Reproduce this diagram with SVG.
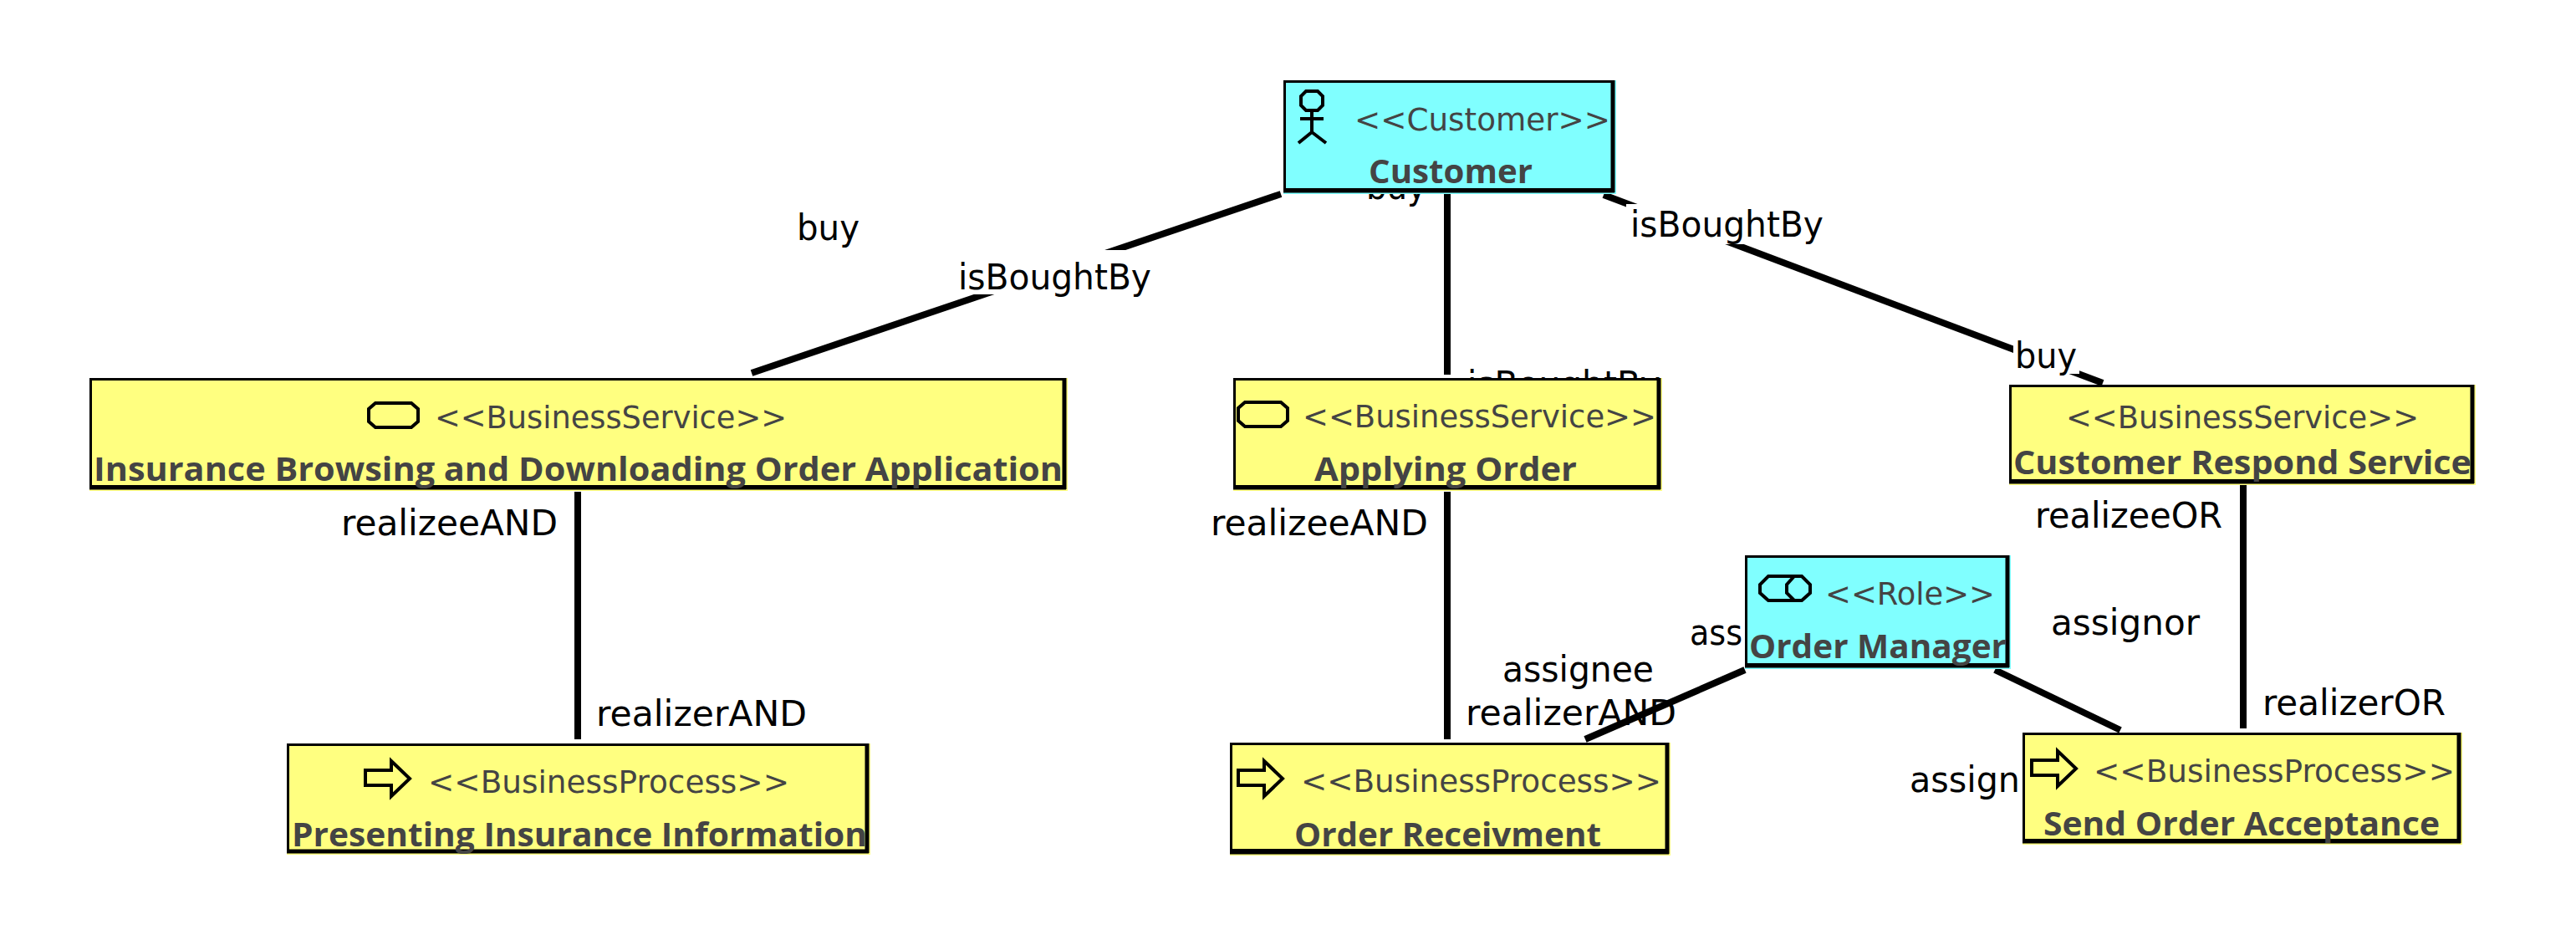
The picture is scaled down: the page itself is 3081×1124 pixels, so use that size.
<svg xmlns="http://www.w3.org/2000/svg" width="3081" height="1124" viewBox="0 0 3081 1124">
<style>
.y{fill:#ffff80}.c{fill:#80ffff}
.f{fill:none;stroke:#000;stroke-width:3}
.b{fill:none;stroke:#000;stroke-width:5}
.i{fill:none;stroke:#000;stroke-width:4}
.s{font-family:"DejaVu Sans","Liberation Sans",sans-serif;font-size:38px;fill:#444}
.n{font-family:"Open Sans","Noto Sans",sans-serif;font-weight:700;font-size:39px;fill:#444}
.l{font-family:"DejaVu Sans","Liberation Sans",sans-serif;font-size:42px;fill:#000}
.w{fill:none;stroke:#000;stroke-width:8}
.m{fill:#fff}
</style>
<defs>
<path id="svc" class="i" d="M10 2H53L61 9V24L53 31H10L2 24V9Z"/>
<path id="prc" class="i" d="M2 13H33V2L55 23L33 44V31H2Z"/>
</defs>
<rect width="3081" height="1124" fill="#fff"/>
<g id="connectors">
<path class="w" d="M1532 232L899 446"/>
<path class="w" d="M1731 232V448"/>
<path class="w" d="M1918 233L2515 458"/>
<path class="w" d="M691 588V884"/>
<path class="w" d="M1731 588V884"/>
<path class="w" d="M2683 580V871"/>
<path class="w" d="M2386 801L2536 873"/>
<rect class="m" x="1140" y="299" width="245" height="53"/>
<rect class="m" x="1945" y="244" width="240" height="48"/>
<rect class="m" x="2408" y="400" width="79" height="47"/>
<text class="l" x="953" y="287" textLength="75" lengthAdjust="spacingAndGlyphs">buy</text>
<text class="l" x="1146" y="346" textLength="231" lengthAdjust="spacingAndGlyphs">isBoughtBy</text>
<text class="l" x="1634" y="238" textLength="72" lengthAdjust="spacingAndGlyphs">buy</text>
<text class="l" x="1755" y="474" textLength="231" lengthAdjust="spacingAndGlyphs">isBoughtBy</text>
<text class="l" x="1950" y="283" textLength="231" lengthAdjust="spacingAndGlyphs">isBoughtBy</text>
<text class="l" x="2410" y="440" textLength="74" lengthAdjust="spacingAndGlyphs">buy</text>
<text class="l" x="408" y="640" textLength="259" lengthAdjust="spacingAndGlyphs">realizeeAND</text>
<text class="l" x="713" y="868" textLength="252" lengthAdjust="spacingAndGlyphs">realizerAND</text>
<text class="l" x="1448" y="640" textLength="260" lengthAdjust="spacingAndGlyphs">realizeeAND</text>
<text class="l" x="1753" y="867" textLength="252" lengthAdjust="spacingAndGlyphs">realizerAND</text>
<text class="l" x="1797" y="815" textLength="181" lengthAdjust="spacingAndGlyphs">assignee</text>
<text class="l" x="2021" y="771" textLength="63" lengthAdjust="spacingAndGlyphs">ass</text>
<text class="l" x="2434" y="631" textLength="224" lengthAdjust="spacingAndGlyphs">realizeeOR</text>
<text class="l" x="2453" y="759" textLength="178" lengthAdjust="spacingAndGlyphs">assignor</text>
<text class="l" x="2706" y="855" textLength="219" lengthAdjust="spacingAndGlyphs">realizerOR</text>
<text class="l" x="2284" y="947" textLength="132" lengthAdjust="spacingAndGlyphs">assign</text>
<path class="w" d="M2087 801L1896 884"/>
</g>
<g id="customer">
<rect class="c" x="1535" y="96" width="398" height="136"/>
<rect class="f" x="1536.500" y="97.500" width="392" height="129"/>
<path class="b" d="M1535 228H1931M1929 96V230"/>
<path class="i" d="M1562 109H1576L1582 115V126L1576 132H1562L1556 126V115ZM1569 132V158M1555 142H1583M1569 158L1553 171M1569 158L1586 171"/>
<text class="s" x="1620" y="156" textLength="306" lengthAdjust="spacingAndGlyphs">&lt;&lt;Customer&gt;&gt;</text>
<text class="n" x="1637" y="219" textLength="196" lengthAdjust="spacingAndGlyphs">Customer</text>
</g>
<g id="insurance-browsing">
<rect class="y" x="107" y="452" width="1170" height="135"/>
<rect class="f" x="108.500" y="453.500" width="1164" height="128"/>
<path class="b" d="M107 583H1275M1273 452V585"/>
<use href="#svc" x="439" y="480"/>
<text class="s" x="520" y="512" textLength="421" lengthAdjust="spacingAndGlyphs">&lt;&lt;BusinessService&gt;&gt;</text>
<text class="n" x="112" y="575" textLength="1159" lengthAdjust="spacingAndGlyphs">Insurance Browsing and Downloading Order Application</text>
</g>
<g id="applying-order">
<rect class="y" x="1475" y="452" width="513" height="135"/>
<rect class="f" x="1476.500" y="453.500" width="507" height="128"/>
<path class="b" d="M1475 583H1986M1984 452V585"/>
<use href="#svc" x="1479" y="479"/>
<text class="s" x="1558" y="511" textLength="423" lengthAdjust="spacingAndGlyphs">&lt;&lt;BusinessService&gt;&gt;</text>
<text class="n" x="1572" y="575" textLength="314" lengthAdjust="spacingAndGlyphs">Applying Order</text>
</g>
<g id="customer-respond">
<rect class="y" x="2403" y="460" width="558" height="120"/>
<rect class="f" x="2404.500" y="461.500" width="552" height="113"/>
<path class="b" d="M2403 576H2959M2957 460V578"/>
<text class="s" x="2471" y="512" textLength="422" lengthAdjust="spacingAndGlyphs">&lt;&lt;BusinessService&gt;&gt;</text>
<text class="n" x="2408" y="567" textLength="548" lengthAdjust="spacingAndGlyphs">Customer Respond Service</text>
</g>
<g id="order-manager">
<rect class="c" x="2087" y="664" width="318" height="136"/>
<rect class="f" x="2088.500" y="665.500" width="312" height="129"/>
<path class="b" d="M2087 796H2403M2401 664V798"/>
<path class="i" d="M2115 689H2155L2165 699V709L2155 718H2115L2105 709V699ZM2146 689L2137 699V709L2146 718"/>
<text class="s" x="2183" y="723" textLength="203" lengthAdjust="spacingAndGlyphs">&lt;&lt;Role&gt;&gt;</text>
<text class="n" x="2092" y="787" textLength="308" lengthAdjust="spacingAndGlyphs">Order Manager</text>
</g>
<g id="presenting-insurance">
<rect class="y" x="343" y="889" width="698" height="133"/>
<rect class="f" x="344.500" y="890.500" width="692" height="127"/>
<path class="b" d="M343 1018H1039M1037 889V1020"/>
<use href="#prc" x="435" y="908"/>
<text class="s" x="512" y="948" textLength="432" lengthAdjust="spacingAndGlyphs">&lt;&lt;BusinessProcess&gt;&gt;</text>
<text class="n" x="349" y="1012" textLength="688" lengthAdjust="spacingAndGlyphs">Presenting Insurance Information</text>
</g>
<g id="order-receivment">
<rect class="y" x="1471" y="888" width="527" height="135"/>
<rect class="f" x="1472.500" y="889.500" width="521" height="127"/>
<path class="b" d="M1471 1019H1996M1994 888V1021"/>
<use href="#prc" x="1479" y="908"/>
<text class="s" x="1556" y="947" textLength="431" lengthAdjust="spacingAndGlyphs">&lt;&lt;BusinessProcess&gt;&gt;</text>
<text class="n" x="1548" y="1012" textLength="367" lengthAdjust="spacingAndGlyphs">Order Receivment</text>
</g>
<g id="send-order">
<rect class="y" x="2419" y="876" width="526" height="134"/>
<rect class="f" x="2420.500" y="877.500" width="520" height="127"/>
<path class="b" d="M2419 1006H2943M2941 876V1008"/>
<use href="#prc" x="2428" y="896"/>
<text class="s" x="2504" y="935" textLength="432" lengthAdjust="spacingAndGlyphs">&lt;&lt;BusinessProcess&gt;&gt;</text>
<text class="n" x="2444" y="999" textLength="474" lengthAdjust="spacingAndGlyphs">Send Order Acceptance</text>
</g>
</svg>
